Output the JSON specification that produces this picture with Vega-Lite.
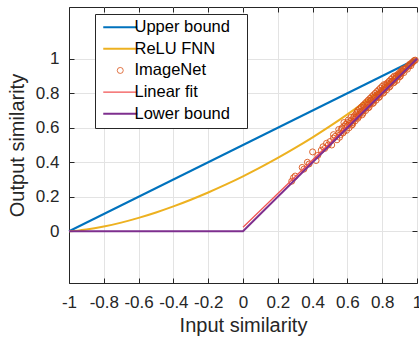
{
  "$schema": "https://vega.github.io/schema/vega-lite/v6.json",
  "width": 348,
  "height": 276,
  "autosize": {"type": "none"},
  "padding": {"left": 69, "top": 7, "right": 2, "bottom": 54},
  "background": "white",
  "config": {
    "font": "Liberation Sans",
    "view": {"stroke": "#262626", "strokeWidth": 1},
    "axis": {
      "labelFont": "Liberation Sans",
      "titleFont": "Liberation Sans",
      "labelColor": "#262626",
      "titleColor": "#262626",
      "domainColor": "#262626",
      "tickColor": "#262626",
      "gridColor": "#e3e3e3",
      "gridWidth": 1,
      "labelFontSize": 17,
      "titleFontSize": 20,
      "titleFontWeight": "normal",
      "tickSize": -5
    }
  },
  "datasets": {
    "bounds": [
      {"series": "Upper bound", "x": -1, "y": 0},
      {"series": "Upper bound", "x": 1, "y": 1}
    ],
    "lower": [
      {"series": "Lower bound", "x": -1, "y": 0},
      {"series": "Lower bound", "x": 0, "y": 0},
      {"series": "Lower bound", "x": 1, "y": 1}
    ],
    "fit": [
      {"series": "Linear fit", "x": 0, "y": 0.023},
      {"series": "Linear fit", "x": 1, "y": 1}
    ],
    "relu": [
      {"series": "ReLU FNN", "x": -1, "y": 0},
      {"series": "ReLU FNN", "x": -0.95, "y": 0.0034},
      {"series": "ReLU FNN", "x": -0.9, "y": 0.0095},
      {"series": "ReLU FNN", "x": -0.8, "y": 0.0271},
      {"series": "ReLU FNN", "x": -0.7, "y": 0.0501},
      {"series": "ReLU FNN", "x": -0.6, "y": 0.0776},
      {"series": "ReLU FNN", "x": -0.5, "y": 0.109},
      {"series": "ReLU FNN", "x": -0.4, "y": 0.1441},
      {"series": "ReLU FNN", "x": -0.3, "y": 0.1828},
      {"series": "ReLU FNN", "x": -0.2, "y": 0.2247},
      {"series": "ReLU FNN", "x": -0.1, "y": 0.2699},
      {"series": "ReLU FNN", "x": 0, "y": 0.3183},
      {"series": "ReLU FNN", "x": 0.1, "y": 0.3699},
      {"series": "ReLU FNN", "x": 0.2, "y": 0.4247},
      {"series": "ReLU FNN", "x": 0.3, "y": 0.4828},
      {"series": "ReLU FNN", "x": 0.4, "y": 0.5441},
      {"series": "ReLU FNN", "x": 0.5, "y": 0.609},
      {"series": "ReLU FNN", "x": 0.6, "y": 0.6776},
      {"series": "ReLU FNN", "x": 0.7, "y": 0.7501},
      {"series": "ReLU FNN", "x": 0.8, "y": 0.8271},
      {"series": "ReLU FNN", "x": 0.9, "y": 0.9095},
      {"series": "ReLU FNN", "x": 0.95, "y": 0.9534},
      {"series": "ReLU FNN", "x": 1, "y": 1}
    ],
    "imagenet": [
      {"series": "ImageNet", "x": 0.28, "y": 0.29},
      {"series": "ImageNet", "x": 0.29, "y": 0.31},
      {"series": "ImageNet", "x": 0.3, "y": 0.32},
      {"series": "ImageNet", "x": 0.34, "y": 0.37},
      {"series": "ImageNet", "x": 0.35, "y": 0.36},
      {"series": "ImageNet", "x": 0.37, "y": 0.4},
      {"series": "ImageNet", "x": 0.38, "y": 0.39},
      {"series": "ImageNet", "x": 0.4, "y": 0.46},
      {"series": "ImageNet", "x": 0.42, "y": 0.41},
      {"series": "ImageNet", "x": 0.43, "y": 0.44},
      {"series": "ImageNet", "x": 0.45, "y": 0.47},
      {"series": "ImageNet", "x": 0.46, "y": 0.49},
      {"series": "ImageNet", "x": 0.47, "y": 0.48},
      {"series": "ImageNet", "x": 0.48, "y": 0.51},
      {"series": "ImageNet", "x": 0.49, "y": 0.5},
      {"series": "ImageNet", "x": 0.5, "y": 0.52},
      {"series": "ImageNet", "x": 0.51, "y": 0.5},
      {"series": "ImageNet", "x": 0.52, "y": 0.54},
      {"series": "ImageNet", "x": 0.52, "y": 0.56},
      {"series": "ImageNet", "x": 0.53, "y": 0.55},
      {"series": "ImageNet", "x": 0.54, "y": 0.53},
      {"series": "ImageNet", "x": 0.55, "y": 0.57},
      {"series": "ImageNet", "x": 0.55, "y": 0.59},
      {"series": "ImageNet", "x": 0.555, "y": 0.545},
      {"series": "ImageNet", "x": 0.56, "y": 0.56},
      {"series": "ImageNet", "x": 0.565, "y": 0.59},
      {"series": "ImageNet", "x": 0.57, "y": 0.6},
      {"series": "ImageNet", "x": 0.575, "y": 0.57},
      {"series": "ImageNet", "x": 0.58, "y": 0.58},
      {"series": "ImageNet", "x": 0.58, "y": 0.63},
      {"series": "ImageNet", "x": 0.585, "y": 0.61},
      {"series": "ImageNet", "x": 0.59, "y": 0.62},
      {"series": "ImageNet", "x": 0.595, "y": 0.585},
      {"series": "ImageNet", "x": 0.6, "y": 0.61},
      {"series": "ImageNet", "x": 0.6, "y": 0.63},
      {"series": "ImageNet", "x": 0.605, "y": 0.645},
      {"series": "ImageNet", "x": 0.61, "y": 0.6},
      {"series": "ImageNet", "x": 0.615, "y": 0.625},
      {"series": "ImageNet", "x": 0.62, "y": 0.64},
      {"series": "ImageNet", "x": 0.62, "y": 0.66},
      {"series": "ImageNet", "x": 0.625, "y": 0.615},
      {"series": "ImageNet", "x": 0.63, "y": 0.63},
      {"series": "ImageNet", "x": 0.63, "y": 0.62},
      {"series": "ImageNet", "x": 0.635, "y": 0.66},
      {"series": "ImageNet", "x": 0.64, "y": 0.67},
      {"series": "ImageNet", "x": 0.64, "y": 0.65},
      {"series": "ImageNet", "x": 0.645, "y": 0.64},
      {"series": "ImageNet", "x": 0.65, "y": 0.66},
      {"series": "ImageNet", "x": 0.65, "y": 0.68},
      {"series": "ImageNet", "x": 0.655, "y": 0.69},
      {"series": "ImageNet", "x": 0.66, "y": 0.67},
      {"series": "ImageNet", "x": 0.66, "y": 0.7},
      {"series": "ImageNet", "x": 0.66, "y": 0.655},
      {"series": "ImageNet", "x": 0.665, "y": 0.665},
      {"series": "ImageNet", "x": 0.67, "y": 0.68},
      {"series": "ImageNet", "x": 0.67, "y": 0.71},
      {"series": "ImageNet", "x": 0.675, "y": 0.695},
      {"series": "ImageNet", "x": 0.68, "y": 0.69},
      {"series": "ImageNet", "x": 0.68, "y": 0.72},
      {"series": "ImageNet", "x": 0.685, "y": 0.675},
      {"series": "ImageNet", "x": 0.69, "y": 0.7},
      {"series": "ImageNet", "x": 0.69, "y": 0.73},
      {"series": "ImageNet", "x": 0.69, "y": 0.685},
      {"series": "ImageNet", "x": 0.695, "y": 0.72},
      {"series": "ImageNet", "x": 0.7, "y": 0.71},
      {"series": "ImageNet", "x": 0.7, "y": 0.74},
      {"series": "ImageNet", "x": 0.705, "y": 0.7},
      {"series": "ImageNet", "x": 0.71, "y": 0.72},
      {"series": "ImageNet", "x": 0.71, "y": 0.75},
      {"series": "ImageNet", "x": 0.715, "y": 0.735},
      {"series": "ImageNet", "x": 0.72, "y": 0.73},
      {"series": "ImageNet", "x": 0.72, "y": 0.76},
      {"series": "ImageNet", "x": 0.72, "y": 0.715},
      {"series": "ImageNet", "x": 0.725, "y": 0.72},
      {"series": "ImageNet", "x": 0.73, "y": 0.74},
      {"series": "ImageNet", "x": 0.73, "y": 0.77},
      {"series": "ImageNet", "x": 0.735, "y": 0.76},
      {"series": "ImageNet", "x": 0.74, "y": 0.75},
      {"series": "ImageNet", "x": 0.74, "y": 0.78},
      {"series": "ImageNet", "x": 0.745, "y": 0.74},
      {"series": "ImageNet", "x": 0.75, "y": 0.76},
      {"series": "ImageNet", "x": 0.75, "y": 0.79},
      {"series": "ImageNet", "x": 0.75, "y": 0.745},
      {"series": "ImageNet", "x": 0.755, "y": 0.78},
      {"series": "ImageNet", "x": 0.76, "y": 0.77},
      {"series": "ImageNet", "x": 0.76, "y": 0.8},
      {"series": "ImageNet", "x": 0.765, "y": 0.76},
      {"series": "ImageNet", "x": 0.77, "y": 0.78},
      {"series": "ImageNet", "x": 0.77, "y": 0.81},
      {"series": "ImageNet", "x": 0.775, "y": 0.795},
      {"series": "ImageNet", "x": 0.78, "y": 0.79},
      {"series": "ImageNet", "x": 0.78, "y": 0.82},
      {"series": "ImageNet", "x": 0.78, "y": 0.775},
      {"series": "ImageNet", "x": 0.785, "y": 0.78},
      {"series": "ImageNet", "x": 0.79, "y": 0.8},
      {"series": "ImageNet", "x": 0.79, "y": 0.83},
      {"series": "ImageNet", "x": 0.795, "y": 0.815},
      {"series": "ImageNet", "x": 0.8, "y": 0.81},
      {"series": "ImageNet", "x": 0.8, "y": 0.84},
      {"series": "ImageNet", "x": 0.805, "y": 0.8},
      {"series": "ImageNet", "x": 0.81, "y": 0.82},
      {"series": "ImageNet", "x": 0.81, "y": 0.85},
      {"series": "ImageNet", "x": 0.81, "y": 0.805},
      {"series": "ImageNet", "x": 0.815, "y": 0.835},
      {"series": "ImageNet", "x": 0.82, "y": 0.83},
      {"series": "ImageNet", "x": 0.82, "y": 0.85},
      {"series": "ImageNet", "x": 0.825, "y": 0.82},
      {"series": "ImageNet", "x": 0.83, "y": 0.84},
      {"series": "ImageNet", "x": 0.83, "y": 0.86},
      {"series": "ImageNet", "x": 0.835, "y": 0.855},
      {"series": "ImageNet", "x": 0.84, "y": 0.85},
      {"series": "ImageNet", "x": 0.84, "y": 0.87},
      {"series": "ImageNet", "x": 0.84, "y": 0.835},
      {"series": "ImageNet", "x": 0.845, "y": 0.84},
      {"series": "ImageNet", "x": 0.85, "y": 0.86},
      {"series": "ImageNet", "x": 0.85, "y": 0.88},
      {"series": "ImageNet", "x": 0.855, "y": 0.87},
      {"series": "ImageNet", "x": 0.86, "y": 0.87},
      {"series": "ImageNet", "x": 0.86, "y": 0.89},
      {"series": "ImageNet", "x": 0.865, "y": 0.86},
      {"series": "ImageNet", "x": 0.87, "y": 0.88},
      {"series": "ImageNet", "x": 0.87, "y": 0.9},
      {"series": "ImageNet", "x": 0.87, "y": 0.865},
      {"series": "ImageNet", "x": 0.875, "y": 0.885},
      {"series": "ImageNet", "x": 0.88, "y": 0.89},
      {"series": "ImageNet", "x": 0.88, "y": 0.9},
      {"series": "ImageNet", "x": 0.885, "y": 0.875},
      {"series": "ImageNet", "x": 0.89, "y": 0.9},
      {"series": "ImageNet", "x": 0.89, "y": 0.91},
      {"series": "ImageNet", "x": 0.895, "y": 0.905},
      {"series": "ImageNet", "x": 0.9, "y": 0.91},
      {"series": "ImageNet", "x": 0.9, "y": 0.92},
      {"series": "ImageNet", "x": 0.9, "y": 0.895},
      {"series": "ImageNet", "x": 0.905, "y": 0.9},
      {"series": "ImageNet", "x": 0.91, "y": 0.92},
      {"series": "ImageNet", "x": 0.91, "y": 0.93},
      {"series": "ImageNet", "x": 0.915, "y": 0.925},
      {"series": "ImageNet", "x": 0.92, "y": 0.93},
      {"series": "ImageNet", "x": 0.92, "y": 0.94},
      {"series": "ImageNet", "x": 0.925, "y": 0.92},
      {"series": "ImageNet", "x": 0.93, "y": 0.94},
      {"series": "ImageNet", "x": 0.935, "y": 0.945},
      {"series": "ImageNet", "x": 0.94, "y": 0.95},
      {"series": "ImageNet", "x": 0.945, "y": 0.94},
      {"series": "ImageNet", "x": 0.95, "y": 0.96},
      {"series": "ImageNet", "x": 0.955, "y": 0.96},
      {"series": "ImageNet", "x": 0.96, "y": 0.97},
      {"series": "ImageNet", "x": 0.965, "y": 0.96},
      {"series": "ImageNet", "x": 0.97, "y": 0.975},
      {"series": "ImageNet", "x": 0.975, "y": 0.98},
      {"series": "ImageNet", "x": 0.98, "y": 0.985},
      {"series": "ImageNet", "x": 0.985, "y": 0.99},
      {"series": "ImageNet", "x": 0.99, "y": 0.992}
    ]
  },
  "encoding": {
    "x": {"field": "x", "type": "quantitative", "scale": {"domain": [-1, 1], "nice": false, "zero": false}},
    "y": {"field": "y", "type": "quantitative", "scale": {"domain": [-0.3, 1.3], "nice": false, "zero": false}},
    "color": {
      "field": "series", "type": "nominal",
      "scale": {
        "domain": ["Upper bound", "ReLU FNN", "ImageNet", "Linear fit", "Lower bound"],
        "range": ["#0072BD", "#EDB120", "#D95319", "#F25252", "#7E2F8E"]
      },
      "legend": {
        "title": null,
        "orient": "none",
        "legendX": 26,
        "legendY": 7,
        "direction": "vertical",
        "fillColor": "white",
        "strokeColor": "#262626",
        "padding": 5,
        "labelFont": "Liberation Sans",
        "labelFontSize": 16.5,
        "labelColor": "#000000",
        "labelExpr": "datum.label + '\u2800'",
        "symbolType": "circle",
        "symbolSize": 36,
        "symbolOffset": 12,
        "labelOffset": 6,
        "rowPadding": 4.6,
        "encode": {
          "symbols": {
            "update": {
              "shape": {"signal": "datum.value === 'ImageNet' ? 'circle' : 'stroke'"},
              "size": {"signal": "datum.value === 'ImageNet' ? 36 : 1156"},
              "strokeWidth": {"signal": "datum.value === 'ImageNet' ? 0.8 : (datum.value === 'Linear fit' ? 1.2 : 2)"},
              "fill": {"value": "transparent"},
              "opacity": {"value": 1}
            }
          }
        }
      }
    }
  },
  "layer": [
    {
      "data": {"name": "bounds"},
      "mark": {"type": "line", "strokeWidth": 2},
      "encoding": {
        "x": {"field": "x", "type": "quantitative", "axis": {"orient": "bottom", "values": [-1, -0.8, -0.6, -0.4, -0.2, 0, 0.2, 0.4, 0.6, 0.8, 1], "labelExpr": "(datum.value < 0 ? '-' : '') + format(abs(datum.value), '~g')", "title": "Input similarity", "labelPadding": 16, "titlePadding": 5, "grid": true, "labelFlush": false}},
        "y": {"field": "y", "type": "quantitative", "axis": {"orient": "left", "values": [0, 0.2, 0.4, 0.6, 0.8, 1], "labelExpr": "format(datum.value, '~g')", "title": "Output similarity", "labelPadding": 15, "titlePadding": 8, "grid": true}}
      }
    },
    {
      "data": {"name": "relu"},
      "mark": {"type": "line", "strokeWidth": 2, "interpolate": "monotone"},
      "encoding": {
        "x": {"field": "x", "type": "quantitative", "axis": {"orient": "top", "values": [-1, -0.8, -0.6, -0.4, -0.2, 0, 0.2, 0.4, 0.6, 0.8, 1], "labels": false, "title": null, "grid": false, "domain": false}},
        "y": {"field": "y", "type": "quantitative", "axis": {"orient": "right", "values": [0, 0.2, 0.4, 0.6, 0.8, 1], "labels": false, "title": null, "grid": false, "domain": false}}
      }
    },
    {
      "data": {"name": "imagenet"},
      "mark": {"type": "point", "filled": false, "size": 36, "strokeWidth": 0.9, "opacity": 1},
      "encoding": {
        "x": {"field": "x", "type": "quantitative", "axis": null},
        "y": {"field": "y", "type": "quantitative", "axis": null}
      }
    },
    {
      "data": {"name": "fit"},
      "mark": {"type": "line", "strokeWidth": 1.2},
      "encoding": {
        "x": {"field": "x", "type": "quantitative", "axis": null},
        "y": {"field": "y", "type": "quantitative", "axis": null}
      }
    },
    {
      "data": {"name": "lower"},
      "mark": {"type": "line", "strokeWidth": 2},
      "encoding": {
        "x": {"field": "x", "type": "quantitative", "axis": null},
        "y": {"field": "y", "type": "quantitative", "axis": null}
      }
    }
  ],
  "resolve": {"axis": {"x": "independent", "y": "independent"}}
}
